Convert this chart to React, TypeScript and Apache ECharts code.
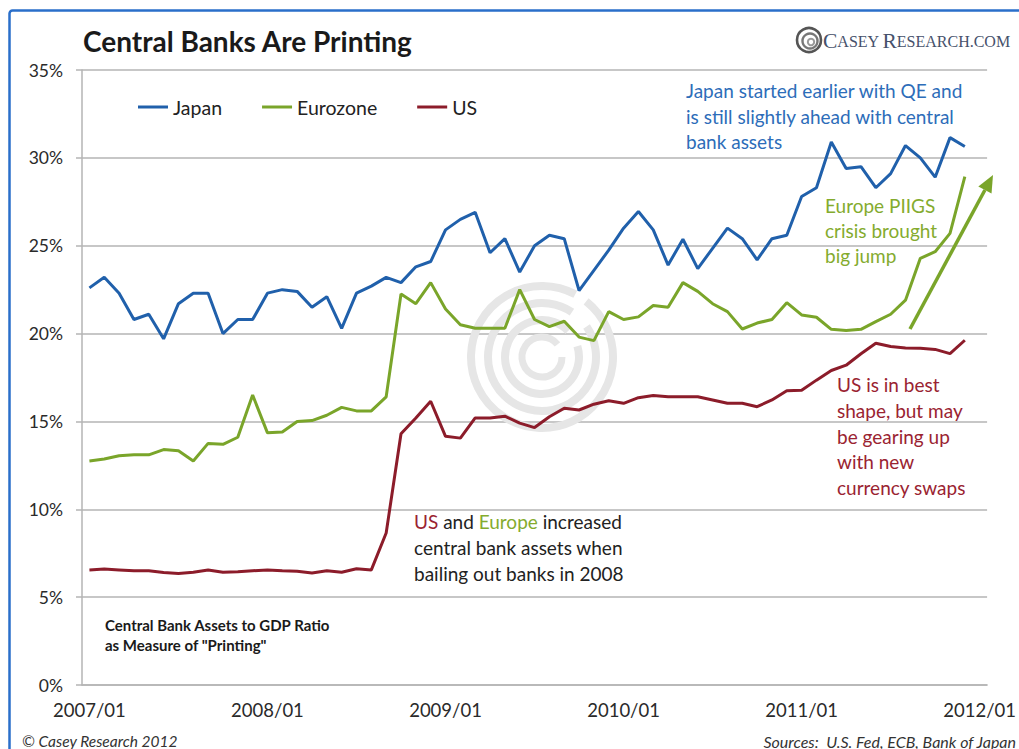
import React, { useEffect, useRef } from "react";
import * as echarts from "echarts";

const months: string[] = [
  "2007/01","2007/02","2007/03","2007/04","2007/05","2007/06","2007/07","2007/08","2007/09","2007/10","2007/11","2007/12",
  "2008/01","2008/02","2008/03","2008/04","2008/05","2008/06","2008/07","2008/08","2008/09","2008/10","2008/11","2008/12",
  "2009/01","2009/02","2009/03","2009/04","2009/05","2009/06","2009/07","2009/08","2009/09","2009/10","2009/11","2009/12",
  "2010/01","2010/02","2010/03","2010/04","2010/05","2010/06","2010/07","2010/08","2010/09","2010/10","2010/11","2010/12",
  "2011/01","2011/02","2011/03","2011/04","2011/05","2011/06","2011/07","2011/08","2011/09","2011/10","2011/11","2011/12",
  "2012/01",
];

const japan: number[] = [
  22.6, 23.2, 22.3, 20.8, 21.1, 19.7, 21.7, 22.3, 22.3, 20.0,
  20.8, 20.8, 22.3, 22.5, 22.4, 21.5, 22.1, 20.3, 22.3, 22.7,
  23.2, 22.9, 23.8, 24.1, 25.9, 26.5, 26.9, 24.6, 25.4, 23.5,
  25.0, 25.6, 25.4, 22.45, 23.6, 24.75, 26.0, 26.95, 25.9, 23.9,
  25.37, 23.7, 24.85, 26.0, 25.4, 24.2, 25.4, 25.6, 27.8, 28.3,
  30.9, 29.4, 29.5, 28.3, 29.1, 30.7, 30.0, 28.9, 31.15, 30.65,
];

const eurozone: number[] = [
  12.75, 12.86, 13.05, 13.1, 13.1, 13.4, 13.33, 12.75, 13.75, 13.7,
  14.1, 16.5, 14.35, 14.4, 15.0, 15.05, 15.35, 15.8, 15.6, 15.6,
  16.4, 22.25, 21.7, 22.9, 21.4, 20.5, 20.3, 20.3, 20.3, 22.5,
  20.8, 20.4, 20.7, 19.8, 19.6, 21.25, 20.8, 20.95, 21.6, 21.5,
  22.9, 22.4, 21.7, 21.25, 20.26, 20.6, 20.8, 21.76, 21.06, 20.93,
  20.24, 20.17, 20.24, 20.68, 21.1, 21.9, 24.28, 24.66, 25.7, 28.93,
];

const us: number[] = [
  6.55, 6.6, 6.55, 6.5, 6.5, 6.4, 6.35, 6.42, 6.55, 6.42,
  6.45, 6.5, 6.55, 6.5, 6.48, 6.38, 6.5, 6.42, 6.62, 6.55,
  8.65, 14.3, 15.2, 16.15, 14.15, 14.05, 15.2, 15.2, 15.3, 14.9,
  14.65, 15.27, 15.75, 15.65, 15.98, 16.18, 16.03, 16.35, 16.47, 16.4,
  16.4, 16.4, 16.22, 16.03, 16.03, 15.84, 16.22, 16.75, 16.77, 17.35,
  17.9, 18.2, 18.85, 19.45, 19.26, 19.18, 19.16, 19.1, 18.86, 19.62,
];

const yTicks = { min: 0, max: 35, step: 5 };

const FONT = "Lato, 'Noto Sans', sans-serif";
const C_JAPAN = "#2060ab";
const C_EURO = "#7aa52a";
const C_US = "#8c1c2a";
const GRID = "#b5b5b5";
const ANN = 19;

export default function App() {
  const ref = useRef<HTMLDivElement>(null);

  useEffect(() => {
    if (!ref.current) return;
    const chart = echarts.init(ref.current, undefined, { renderer: "svg" });

    // arrow geometry (annotation)
    const tip = [993, 175];
    const start = [910, 329];
    const dx = tip[0] - start[0];
    const dy = tip[1] - start[1];
    const len = Math.sqrt(dx * dx + dy * dy);
    const ux = dx / len, uy = dy / len;
    const nx = -uy, ny = ux;
    const headL = 17, headW = 7.5;
    const base = [tip[0] - ux * headL, tip[1] - uy * headL];

    const wm = "#e6e6e6";

    const option: any = {
      animation: false,
      backgroundColor: "#ffffff",
      textStyle: { fontFamily: FONT },
      title: {
        text: "Central Banks Are Printing",
        left: 78,
        top: 22,
        textStyle: { fontFamily: FONT, fontSize: 28, fontWeight: "bold", color: "#1a1a1a" },
      },
      legend: {
        data: ["Japan", "Eurozone", "US"],
        left: 133,
        top: 92,
        icon: "rect",
        itemWidth: 30,
        itemHeight: 3,
        itemGap: 40,
        textStyle: { fontFamily: FONT, fontSize: 19.5, color: "#222" },
      },
      grid: { left: 82, right: 26, top: 70, bottom: 64, containLabel: false },
      xAxis: {
        type: "category",
        data: months,
        boundaryGap: true,
        axisLine: { show: true, lineStyle: { color: GRID, width: 1.5 } },
        axisTick: { show: false },
        axisLabel: { interval: 11, color: "#2a2a2a", fontSize: 18.5, margin: 15, fontFamily: FONT },
        splitLine: { show: false },
      },
      yAxis: {
        type: "value",
        min: yTicks.min,
        max: yTicks.max,
        interval: yTicks.step,
        axisLine: { show: true, lineStyle: { color: GRID, width: 1.5 } },
        axisTick: { show: true, length: 6, lineStyle: { color: GRID, width: 1.5 } },
        axisLabel: { formatter: "{value}%", color: "#2a2a2a", fontSize: 17.5, margin: 19, fontFamily: FONT },
        splitLine: { show: true, lineStyle: { color: GRID, width: 1.5 } },
      },
      series: [
        { name: "Japan", type: "line", data: japan, showSymbol: false, lineStyle: { width: 3, color: C_JAPAN }, itemStyle: { color: C_JAPAN }, z: 3 },
        { name: "Eurozone", type: "line", data: eurozone, showSymbol: false, lineStyle: { width: 3, color: C_EURO }, itemStyle: { color: C_EURO }, z: 3 },
        { name: "US", type: "line", data: us, showSymbol: false, lineStyle: { width: 3, color: C_US }, itemStyle: { color: C_US }, z: 3 },
      ],
      graphic: [
        // frame border
        { type: "rect", z: 0, silent: true, shape: { x: 9.5, y: 10.5, width: 1040, height: 780, r: 3 }, style: { fill: "none", stroke: "#2a6fca", lineWidth: 2.5 } },
        // watermark spiral
        { type: "arc", z: 1, silent: true, shape: { cx: 542, cy: 357, r: 71, startAngle: -0.9, endAngle: 5.2 }, style: { fill: "none", stroke: wm, lineWidth: 8 } },
        { type: "arc", z: 1, silent: true, shape: { cx: 542, cy: 357, r: 54, startAngle: -0.6, endAngle: 5.3 }, style: { fill: "none", stroke: wm, lineWidth: 8 } },
        { type: "arc", z: 1, silent: true, shape: { cx: 542, cy: 357, r: 37, startAngle: -0.3, endAngle: 5.5 }, style: { fill: "none", stroke: wm, lineWidth: 8 } },
        { type: "arc", z: 1, silent: true, shape: { cx: 542, cy: 357, r: 20, startAngle: 0, endAngle: 5.6 }, style: { fill: "none", stroke: wm, lineWidth: 7 } },
        // logo icon
        { type: "circle", z: 5, silent: true, shape: { cx: 809, cy: 40, r: 12 }, style: { fill: "none", stroke: "#555", lineWidth: 2.6 } },
        { type: "circle", z: 5, silent: true, shape: { cx: 810, cy: 41, r: 7.5 }, style: { fill: "none", stroke: "#777", lineWidth: 2.4 } },
        { type: "circle", z: 5, silent: true, shape: { cx: 811, cy: 42, r: 3.2 }, style: { fill: "none", stroke: "#999", lineWidth: 2 } },
        // logo text
        {
          type: "text", z: 5, silent: true, x: 823, y: 41,
          style: {
            text: "{b|C}{s|ASEY} {b|R}{s|ESEARCH.COM}",
            verticalAlign: "middle",
            rich: {
              b: { fontFamily: "'Liberation Serif', 'DejaVu Serif', serif", fontSize: 21.5, fill: "#46516b" },
              s: { fontFamily: "'Liberation Serif', 'DejaVu Serif', serif", fontSize: 16, fill: "#46516b" },
            },
          },
        },
        // Japan annotation
        {
          type: "text", z: 10, silent: true, x: 686, y: 78,
          style: {
            text: "Japan started earlier with QE and\nis still slightly ahead with central\nbank assets",
            fill: "#2d6db9", font: `${ANN}px ${FONT}`, lineHeight: 25.5, verticalAlign: "top",
          },
        },
        // Europe annotation
        {
          type: "text", z: 10, silent: true, x: 825, y: 192.5,
          style: {
            text: "Europe PIIGS\ncrisis brought\nbig jump",
            fill: "#84ab2e", font: `${ANN}px ${FONT}`, lineHeight: 25, verticalAlign: "top",
          },
        },
        // US annotation
        {
          type: "text", z: 10, silent: true, x: 837, y: 372,
          style: {
            text: "US is in best\nshape, but may\nbe gearing up\nwith new\ncurrency swaps",
            fill: "#9a2331", font: `${ANN}px ${FONT}`, lineHeight: 25.7, verticalAlign: "top",
          },
        },
        // 2008 annotation
        {
          type: "text", z: 10, silent: true, x: 414, y: 509,
          style: {
            text: "{r|US} and {g|Europe} increased\ncentral bank assets when\nbailing out banks in 2008",
            fill: "#222", font: `${ANN}px ${FONT}`, lineHeight: 25.7, verticalAlign: "top",
            rich: {
              r: { fill: "#9a2331", font: `${ANN}px ${FONT}` },
              g: { fill: "#84ab2e", font: `${ANN}px ${FONT}` },
            },
          },
        },
        // ratio note
        {
          type: "text", z: 10, silent: true, x: 105, y: 615,
          style: {
            text: "Central Bank Assets to GDP Ratio\nas Measure of \"Printing\"",
            fill: "#1a1a1a", font: `bold 15px ${FONT}`, lineHeight: 20, verticalAlign: "top",
          },
        },
        // green arrow
        { type: "line", z: 10, silent: true, shape: { x1: start[0], y1: start[1], x2: base[0], y2: base[1] }, style: { stroke: C_EURO, lineWidth: 3.5 } },
        {
          type: "polygon", z: 10, silent: true,
          shape: { points: [tip, [base[0] + nx * headW, base[1] + ny * headW], [base[0] - nx * headW, base[1] - ny * headW]] },
          style: { fill: C_EURO },
        },
        // footer
        {
          type: "text", z: 10, silent: true, x: 22, y: 741,
          style: { text: "© Casey Research 2012", fill: "#333", font: `italic 15.5px ${FONT}`, verticalAlign: "middle" },
        },
        {
          type: "text", z: 10, silent: true, x: 1016, y: 741,
          style: { text: "Sources:  U.S. Fed, ECB, Bank of Japan", fill: "#333", font: `italic 16px ${FONT}`, verticalAlign: "middle", align: "right" },
        },
      ],
    };

    chart.setOption(option);
    return () => chart.dispose();
  }, []);

  return <div ref={ref} style={{ position: "fixed", left: 0, top: 0, width: 1019, height: 749 }} />;
}
